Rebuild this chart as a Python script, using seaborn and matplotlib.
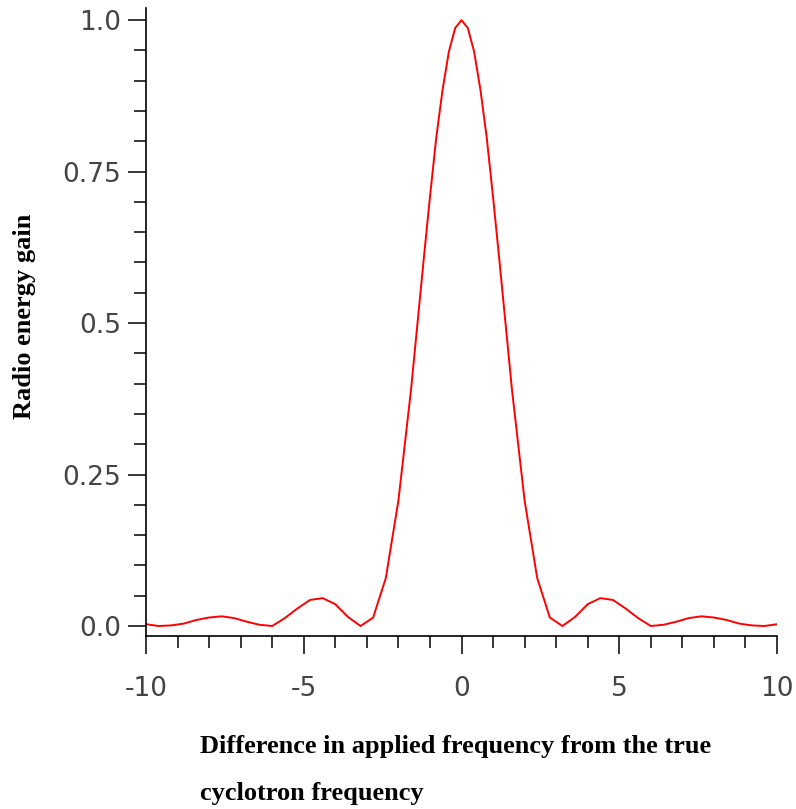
"""
Radio energy gain vs. frequency offset (Maple-style line plot)
"""
import numpy as np
import pandas as pd
import matplotlib
matplotlib.use('Agg')
import matplotlib.pyplot as plt
from matplotlib.ticker import MultipleLocator
import seaborn as sns

# Data
freq_diff = [-10.0, -9.6, -9.2, -8.8, -8.4, -8.0, -7.6, -7.2, -6.8, -6.4,
             -6.0, -5.6, -5.2, -4.8, -4.4, -4.0, -3.6, -3.2, -2.8, -2.4,
             -2.0, -1.6, -1.2, -1.0, -0.8, -0.6, -0.4, -0.2, 0.0, 0.2, 0.4, 0.6,
             0.8, 1.0, 1.2, 1.6,
             2.0, 2.4, 2.8, 3.2, 3.6, 4.0, 4.4, 4.8, 5.2, 5.6,
             6.0, 6.4, 6.8, 7.2, 7.6, 8.0, 8.4, 8.8, 9.2, 9.6, 10.0]
energy_gain = [0.003, 0.000, 0.001, 0.004, 0.010, 0.014, 0.016, 0.013, 0.007, 0.002,
               0.000, 0.013, 0.029, 0.043, 0.046, 0.036, 0.015, 0.000, 0.014, 0.079,
               0.207, 0.390, 0.604, 0.708, 0.806, 0.885, 0.948, 0.987, 1.000, 0.987, 0.948, 0.885,
               0.806, 0.708, 0.604, 0.390,
               0.207, 0.079, 0.014, 0.000, 0.015, 0.036, 0.046, 0.043, 0.029, 0.013,
               0.000, 0.002, 0.007, 0.013, 0.016, 0.014, 0.010, 0.004, 0.001, 0.000, 0.003]
x_ticks = [-10, -5, 0, 5, 10]
y_ticks = [0.0, 0.25, 0.5, 0.75, 1.0]
y_tick_labels = ['0.0', '0.25', '0.5', '0.75', '1.0']

df = pd.DataFrame({'x': freq_diff, 'y': energy_gain})

sns.set_style('ticks')
plt.rcParams['font.family'] = ['DejaVu Sans']

fig = plt.figure(figsize=(7.96, 8.09), dpi=100)
ax = fig.add_axes([146 / 796, 1 - 636 / 809, 631 / 796, 628 / 809])

sns.lineplot(data=df, x='x', y='y', color='#ff0000', linewidth=1.4, ax=ax)

ax.set_xlim(-10, 10)
ax.set_ylim(-0.0165, 1.02)
ax.set_xticks(x_ticks)
ax.set_xticklabels([str(t) for t in x_ticks])
ax.set_yticks(y_ticks)
ax.set_yticklabels(y_tick_labels)
ax.xaxis.set_minor_locator(MultipleLocator(1))
ax.yaxis.set_minor_locator(MultipleLocator(0.05))

sns.despine(ax=ax)
for s in ['left', 'bottom']:
    ax.spines[s].set_linewidth(1.2)
    ax.spines[s].set_color('black')

ax.tick_params(which='major', direction='out', length=13, width=1.1,
               color='black', labelsize=19, labelcolor='#444444')
ax.tick_params(axis='x', which='major', pad=16)
ax.tick_params(axis='y', which='major', pad=5)
ax.tick_params(which='minor', direction='out', length=8.5, width=1.1, color='black')

ax.set_xlabel('')
ax.set_ylabel('')

serif_bold = dict(family=['Liberation Serif', 'DejaVu Serif'], fontweight='bold',
                  fontsize=19, color='black')
fig.text(200 / 796, 1 - 753 / 809, 'Difference in applied frequency from the true',
         ha='left', va='baseline', **serif_bold)
fig.text(200 / 796, 1 - 800 / 809, 'cyclotron frequency',
         ha='left', va='baseline', **serif_bold)
fig.text(25 / 796, 1 - 316 / 809, 'Radio energy gain', rotation=90,
         ha='center', va='center', **serif_bold)

fig.savefig('out.png', dpi=100, facecolor='white')
print("Saved: out.png")
